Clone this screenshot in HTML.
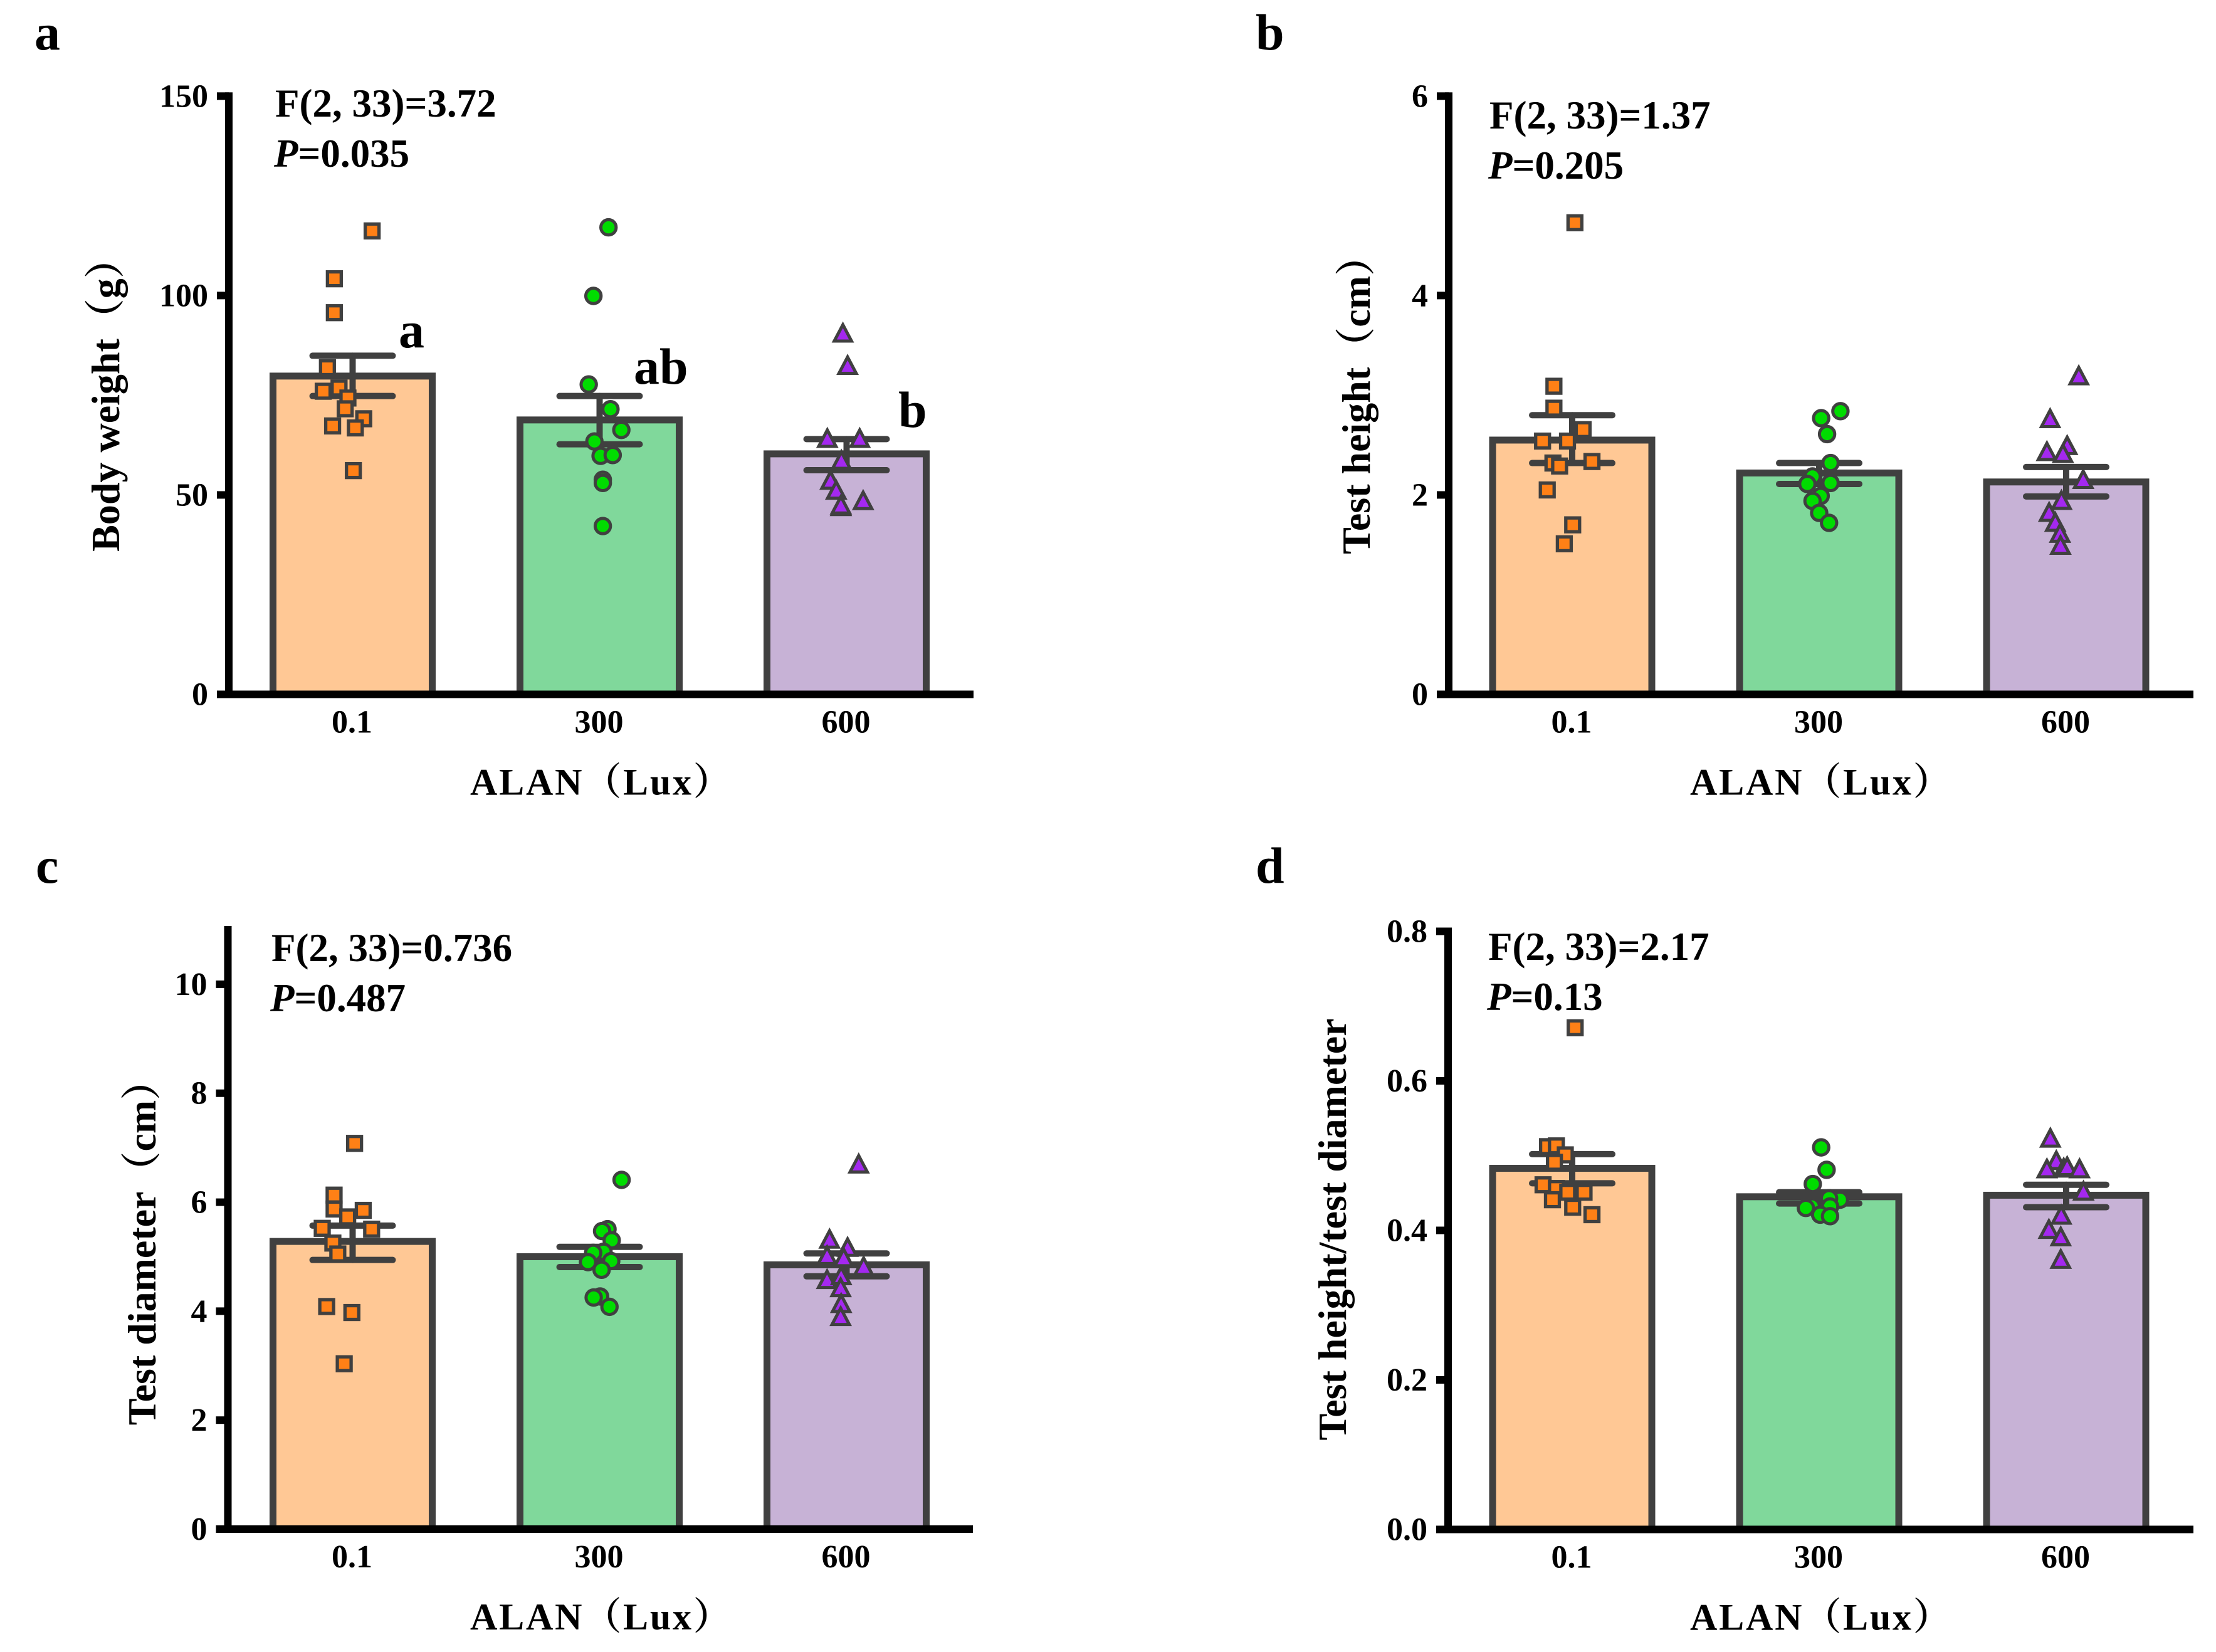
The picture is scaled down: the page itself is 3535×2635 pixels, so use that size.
<!DOCTYPE html>
<html lang="en">
<head>
<meta charset="utf-8">
<title>ALAN bar charts</title>
<style>
html,body{margin:0;padding:0;background:#fff;}
svg{display:block;}
text{font-family:"Liberation Serif","Noto Serif CJK SC",serif;font-weight:bold;fill:#000;}
</style>
</head>
<body>
<svg id="chart" xmlns="http://www.w3.org/2000/svg" width="3535" height="2635" viewBox="0 0 3535 2635">
<rect width="3535" height="2635" fill="#fff"/>
</svg>
<script>
const categories = ['0.1', '300', '600'];

// Panel a
const aTicks = [0, 50, 100, 150];
const aTickLabels = ['0', '50', '100', '150'];
const aMeans = [79.8, 68.8, 60.3];
const aUpper = [84.9, 74.8, 64];
const aLower = [74.8, 62.7, 56.2];
const aValues0 = [116.2, 104.2, 95.7, 81.9, 76.0, 76.8, 74.3, 71.6, 69.1, 67.3, 66.8, 56.1];
const aJitter0 = [.079, -.074, -.074, -.102, -.119, -.055, -.019, -.030, .045, -.081, .011, .003];
const aValues1 = [117.1, 99.9, 77.7, 71.5, 66.3, 63.4, 59.8, 60.0, 53.8, 53.0, 42.2];
const aJitter1 = [.036, -.025, -.044, .044, .088, -.021, .004, .053, .013, .013, .013];
const aValues2 = [90.7, 82.6, 64.3, 64.3, 58.8, 53.8, 51.3, 47.2, 47.6, 48.7];
const aJitter2 = [-.015, .004, -.078, .053, -.021, -.065, -.042, -.023, -.023, .067];

// Panel b
const bTicks = [0, 2, 4, 6];
const bTickLabels = ['0', '2', '4', '6'];
const bMeans = [2.55, 2.22, 2.13];
const bUpper = [2.80, 2.32, 2.28];
const bLower = [2.32, 2.11, 1.985];
const bValues0 = [4.73, 3.09, 2.87, 2.655, 2.54, 2.54, 2.32, 2.29, 2.335, 2.05, 1.70, 1.51];
const bJitter0 = [.011, -.074, -.074, .044, -.12, -.019, -.078, -.051, .08, -.101, .002, -.032];
const bValues1 = [2.84, 2.77, 2.61, 2.32, 2.185, 2.11, 2.12, 1.99, 1.94, 1.82, 1.72];
const bJitter1 = [.086, .008, .032, .046, -.027, -.048, .046, .006, -.027, 0, .04];
const bValues2 = [3.20, 2.77, 2.50, 2.44, 2.42, 2.16, 1.95, 1.83, 1.73, 1.62, 1.50];
const bJitter2 = [.051, -.065, .004, -.078, -.013, .069, -.019, -.069, -.044, -.025, -.023];

// Panel c
const cTicks = [0, 2, 4, 6, 8, 10];
const cTickLabels = ['0', '2', '4', '6', '8', '10'];
const cMeans = [5.28, 5.0, 4.85];
const cUpper = [5.57, 5.18, 5.06];
const cLower = [4.94, 4.81, 4.64];
const cValues0 = [7.08, 6.13, 5.875, 5.85, 5.73, 5.52, 5.505, 5.25, 5.05, 4.085, 3.975, 3.035];
const cJitter0 = [.008, -.075, -.075, .043, -.02, -.123, .077, -.08, -.06, -.105, -.003, -.034];
const cValues1 = [6.41, 5.505, 5.47, 5.30, 5.09, 5.07, 4.90, 4.92, 4.76, 4.27, 4.25, 4.08];
const cJitter1 = [.089, .032, .01, .049, .016, -.026, -.047, .047, .008, .002, -.024, .04];
const cValues2 = [6.71, 5.33, 5.18, 5.03, 4.99, 4.83, 4.59, 4.66, 4.44, 4.15, 3.91];
const cJitter2 = [.049, -.069, .004, -.079, -.012, .069, -.079, -.022, -.024, -.022, -.024];

// Panel d
const dTicks = [0, 0.2, 0.4, 0.6, 0.8];
const dTickLabels = ['0.0', '0.2', '0.4', '0.6', '0.8'];
const dMeans = [.483, .445, .447];
const dUpper = [.502, .451, .461];
const dLower = [.463, .436, .431];
const dValues0 = [.671, .512, .513, .501, .491, .461, .456, .451, .451, .441, .431, .421];
const dJitter0 = [.012, -.1, -.064, -.028, -.072, -.118, -.064, -.018, .048, -.08, .002, .08];
const dValues1 = [.511, .481, .462, .441, .443, .432, .432, .430, .421, .419];
const dJitter1 = [.008, .03, -.026, .084, .04, .044, -.03, -.054, .004, .044];
const dValues2 = [.524, .494, .483, .484, .486, .483, .453, .421, .402, .392, .362];
const dJitter2 = [-.064, -.04, -.078, -.01, .004, .054, .07, -.02, -.07, -.022, -.022];

const svg = document.getElementById('chart');
const NS = 'http://www.w3.org/2000/svg';
const DARK = '#404040';
const barFills = ['#ffc895', '#80d89b', '#c7b2d6'];
const markerFills = ['#ff8016', '#00dc00', '#a428f0'];
const seriesNames = ['lux-0-1', 'lux-300', 'lux-600'];

function make(tag, attrs, parent, text) {
  const n = document.createElementNS(NS, tag);
  for (const k in attrs) n.setAttribute(k, attrs[k]);
  if (text !== undefined) n.textContent = text;
  parent.appendChild(n);
  return n;
}

function marker(kind, px, py, fill, parent) {
  let m;
  if (kind === 0) {
    m = make('rect', {x: px - 11, y: py - 11, width: 22, height: 22, fill: fill, stroke: DARK, 'stroke-width': 5.3}, parent);
  } else if (kind === 1) {
    m = make('circle', {cx: px, cy: py, r: 12.2, fill: fill, stroke: DARK, 'stroke-width': 5}, parent);
  } else {
    m = make('polygon', {points: (px) + ',' + (py - 12.6) + ' ' + (px + 13.8) + ',' + (py + 13.5) + ' ' + (px - 13.8) + ',' + (py + 13.5), fill: fill, stroke: DARK, 'stroke-width': 5}, parent);
  }
  return m;
}

function drawPanel(p) {
  const g = make('g', {}, svg);
  
  

  const y = v => p.y0 - (v / p.yMax) * (p.y0 - p.yTop);
  const x = (i, j) => p.x0 + (i + (j || 0)) * 394;

  // bars
  p.means.forEach((mean, i) => {
    const bar = make('rect', {x: x(i) - 127, y: y(mean), width: 254, height: p.y0 - y(mean), fill: barFills[i], stroke: DARK, 'stroke-width': 11}, g);
    
    
  });

  // error bars
  p.means.forEach((mean, i) => {
    const eg = make('g', {stroke: DARK, 'stroke-width': 10, 'stroke-linecap': 'round'}, g);
    
    
    make('line', {x1: x(i), x2: x(i), y1: y(p.upper[i]), y2: y(p.lower[i])}, eg);
    make('line', {x1: x(i) - 64, x2: x(i) + 64, y1: y(p.upper[i]), y2: y(p.upper[i])}, eg);
    make('line', {x1: x(i) - 64, x2: x(i) + 64, y1: y(p.lower[i]), y2: y(p.lower[i])}, eg);
  });

  // points
  p.values.forEach((vals, i) => {
    const pg = make('g', {}, g);
    
    
    vals.forEach((v, k) => {
      const m = marker(i, x(i, p.jitter[i][k]), y(v), markerFills[i], pg);
      
      
    });
  });

  // axes
  const yAxis = make('rect', {x: p.axisX - 6, y: y(p.yMax) - 6, width: 12, height: p.y0 + 6 - y(p.yMax) + 6, fill: '#000'}, g);
  
  
  const xAxis = make('rect', {x: p.axisX - 19, y: p.y0 - 6, width: p.xEnd - p.axisX + 19, height: 12, fill: '#000'}, g);
  
  

  p.ticks.forEach((t, i) => {
    const tick = make('rect', {x: p.axisX - 19, y: y(t) - 6, width: 19, height: 12, fill: '#000'}, g);
    
    
    const lab = make('text', {x: p.axisX - 33, y: y(t) + 17, 'text-anchor': 'end', 'font-size': 52}, g, p.tickLabels[i]);
    
    
  });

  categories.forEach((c, i) => {
    const lab = make('text', {x: x(i) - 1, y: p.y0 + 61, 'text-anchor': 'middle', 'font-size': 52}, g, c);
    
    
  });

  const xTitle = make('text', {x: p.xTitleX, y: p.y0 + 160, 'font-size': 60, 'letter-spacing': 2.8}, g, 'ALAN（Lux）');
  
  

  const yTitle = make('text', {transform: 'translate(' + p.yTitleX + ',' + p.yTitleY + ') rotate(-90)', 'text-anchor': 'middle', 'font-size': p.yTitleSize}, g, p.yTitle);
  
  

  const fText = make('text', {x: p.statX, y: p.statY, 'font-size': 63}, g, p.fStat);
  
  

  const pText = make('text', {x: p.statX - 2, y: p.statY + 80, 'font-size': 63}, g);
  
  
  make('tspan', {'font-style': 'italic'}, pText, 'P');
  make('tspan', {}, pText, p.pStat);

  const letter = make('text', {x: p.letterX, y: p.letterY, 'font-size': 82}, g, p.id);
  
  

  (p.sig || []).forEach(s => {
    const t = make('text', {x: s[1], y: s[2], 'font-size': 82}, g, s[0]);
    
    
  });
}

drawPanel({id: 'a', x0: 562.5, y0: 1107.5, yTop: 153.3, yMax: 150, axisX: 365, xEnd: 1553,
  ticks: aTicks, tickLabels: aTickLabels, means: aMeans, upper: aUpper, lower: aLower,
  values: [aValues0, aValues1, aValues2], jitter: [aJitter0, aJitter1, aJitter2],
  xTitleX: 750, yTitle: 'Body weight（g）', yTitleX: 190, yTitleY: 630, yTitleSize: 64,
  fStat: 'F(2, 33)=3.72', pStat: '=0.035', statX: 439, statY: 186, letterX: 55, letterY: 79,
  sig: [['a', 636, 554], ['ab', 1011, 612], ['b', 1433, 681]]});

drawPanel({id: 'b', x0: 2508, y0: 1107.5, yTop: 153.3, yMax: 6, axisX: 2311, xEnd: 3499,
  ticks: bTicks, tickLabels: bTickLabels, means: bMeans, upper: bUpper, lower: bLower,
  values: [bValues0, bValues1, bValues2], jitter: [bJitter0, bJitter1, bJitter2],
  xTitleX: 2696, yTitle: 'Test height（cm）', yTitleX: 2185, yTitleY: 630, yTitleSize: 64,
  fStat: 'F(2, 33)=1.37', pStat: '=0.205', statX: 2376, statY: 205, letterX: 2003, letterY: 79});

drawPanel({id: 'c', x0: 562.5, y0: 2439, yTop: 1483, yMax: 11, axisX: 363.5, xEnd: 1552,
  ticks: cTicks, tickLabels: cTickLabels, means: cMeans, upper: cUpper, lower: cLower,
  values: [cValues0, cValues1, cValues2], jitter: [cJitter0, cJitter1, cJitter2],
  xTitleX: 750, yTitle: 'Test diameter（cm）', yTitleX: 248, yTitleY: 1982, yTitleSize: 64,
  fStat: 'F(2, 33)=0.736', pStat: '=0.487', statX: 433, statY: 1533, letterX: 57, letterY: 1408});

drawPanel({id: 'd', x0: 2508, y0: 2439.5, yTop: 1485.5, yMax: 0.8, axisX: 2310, xEnd: 3499,
  ticks: dTicks, tickLabels: dTickLabels, means: dMeans, upper: dUpper, lower: dLower,
  values: [dValues0, dValues1, dValues2], jitter: [dJitter0, dJitter1, dJitter2],
  xTitleX: 2696, yTitle: 'Test height/test diameter', yTitleX: 2147, yTitleY: 1961, yTitleSize: 64,
  fStat: 'F(2, 33)=2.17', pStat: '=0.13', statX: 2374, statY: 1531, letterX: 2003, letterY: 1408});
</script>
</body>
</html>
